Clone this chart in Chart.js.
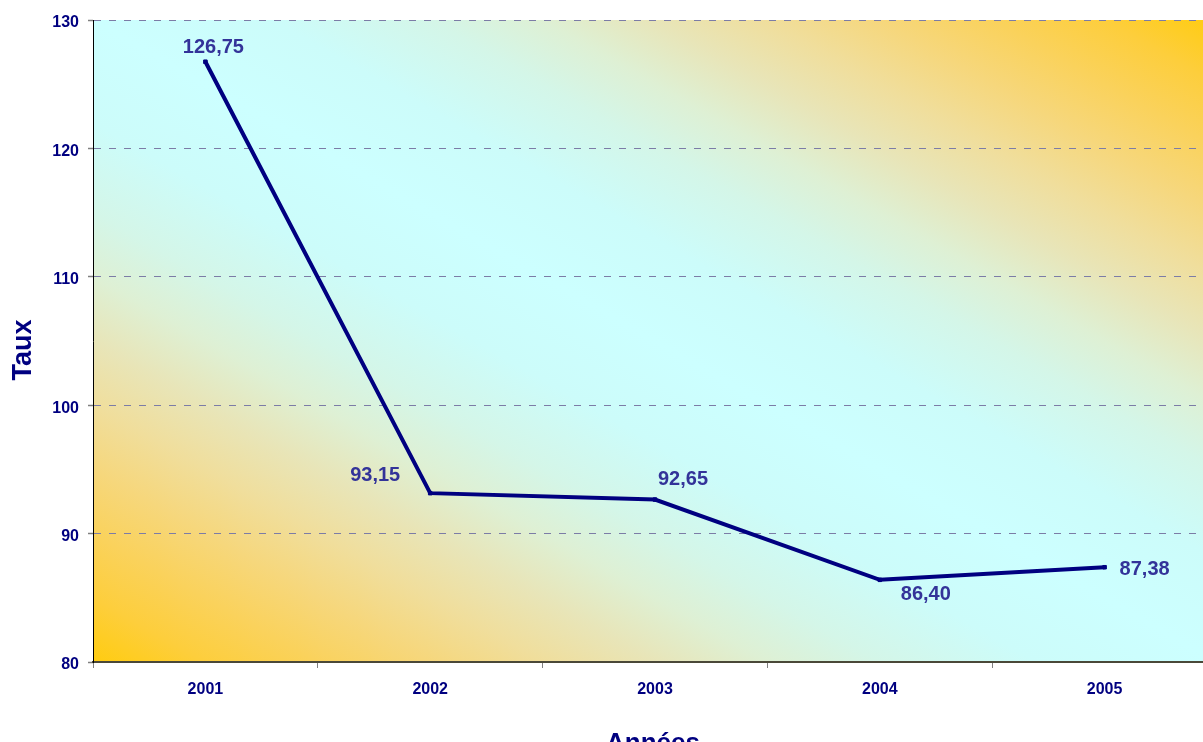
<!DOCTYPE html>
<html>
<head>
<meta charset="utf-8">
<title>Taux 2001-2005</title>
<script src="https://cdn.jsdelivr.net/npm/chart.js@4/dist/chart.umd.min.js"></script>
<style>
  html, body { margin: 0; padding: 0; background: #ffffff; overflow: hidden; }
  /* the plot runs a little past the right edge, so the canvas is wider than the frame */
  #wrap { width: 1203px; height: 742px; overflow: hidden; }
  #lineChart { display: block; }
</style>
</head>
<body>
<div id="wrap"><canvas id="lineChart" width="1217" height="742"></canvas></div>
<script>
// Data
const years = ['2001', '2002', '2003', '2004', '2005'];
const taux = [126.75, 93.15, 92.65, 86.40, 87.38];
const yTicks = [80, 90, 100, 110, 120, 130];

const FONT = '"Liberation Sans", Arial, sans-serif';
const NAVY = '#000080';

// where each value label sits relative to its point (dx, dy)
const labelOffsets = [[8, -14], [-55, -18], [28, -20], [46, 15], [40, 2]];

// gold -> cyan half of the background ramp, mirrored for the other half
const rampStops = [
    [0.00, '#ffcc10'], [0.05, '#fdce3c'], [0.10, '#fad25c'], [0.15, '#f6d77c'],
    [0.20, '#f0de9c'], [0.25, '#e8e5b8'], [0.30, '#def0d4'], [0.35, '#d4f6e8'],
    [0.42, '#ccfcfa'], [0.50, '#ccffff']
];

// Diagonal gold -> cyan -> gold fill behind the plot
const areaGradient = {
    id: 'areaGradient',
    beforeDraw(chart) {
        const { ctx, chartArea: a } = chart;
        const w = a.right - a.left;
        const h = a.bottom - a.top;
        // isolines run corner to corner (top-left / bottom-right)
        const k = 2 / (1 / (w * w) + 1 / (h * h));
        const x0 = a.left, y0 = a.bottom;
        const g = ctx.createLinearGradient(x0, y0, x0 + k / w, y0 - k / h);
        rampStops.forEach(([t, c]) => {
            g.addColorStop(t, c);
            g.addColorStop(1 - t, c);
        });
        ctx.save();
        ctx.fillStyle = g;
        ctx.fillRect(a.left, a.top, w, h);
        ctx.restore();
    }
};

// Value labels with a decimal comma
const valueLabels = {
    id: 'valueLabels',
    afterDatasetsDraw(chart) {
        const { ctx } = chart;
        const meta = chart.getDatasetMeta(0);
        ctx.save();
        ctx.font = 'bold 20px ' + FONT;
        ctx.fillStyle = '#333399';
        ctx.textAlign = 'center';
        ctx.textBaseline = 'middle';
        meta.data.forEach((pt, i) => {
            const txt = taux[i].toFixed(2).replace('.', ',');
            const off = labelOffsets[i];
            ctx.fillText(txt, pt.x + off[0], pt.y + off[1]);
        });
        ctx.restore();
    }
};

// Axis titles
const axisTitles = {
    id: 'axisTitles',
    afterDraw(chart) {
        const { ctx } = chart;
        ctx.save();
        ctx.fillStyle = NAVY;
        ctx.textAlign = 'center';
        ctx.textBaseline = 'alphabetic';
        ctx.font = 'bold 26px ' + FONT;
        ctx.fillText('Années', 653, 751);
        ctx.translate(31, 350);
        ctx.rotate(-Math.PI / 2);
        ctx.font = 'bold 27px ' + FONT;
        ctx.fillText('Taux', 0, 0);
        ctx.restore();
    }
};

window.onload = function() {
    const ctx = document.getElementById('lineChart').getContext('2d');
    new Chart(ctx, {
        type: 'line',
        data: {
            labels: years,
            datasets: [{
                data: taux,
                borderColor: NAVY,
                borderWidth: 4,
                tension: 0,
                pointStyle: 'rect',
                pointRadius: 2.5,
                pointBackgroundColor: NAVY,
                pointBorderColor: NAVY,
                pointBorderWidth: 1
            }]
        },
        options: {
            responsive: false,
            animation: false,
            layout: {
                autoPadding: false,
                padding: { top: 20, right: 0, left: 0, bottom: 0 }
            },
            plugins: {
                legend: { display: false },
                tooltip: { enabled: false }
            },
            scales: {
                x: {
                    offset: true,
                    afterFit(scale) {
                        scale.height = 80;
                        scale.paddingLeft = 0;
                        scale.paddingRight = 0;
                    },
                    grid: {
                        offset: true,
                        drawOnChartArea: false,
                        drawTicks: true,
                        tickLength: 6,
                        tickColor: '#808080',
                        tickWidth: 1
                    },
                    border: { color: '#4a4838', width: 2 },
                    ticks: {
                        color: NAVY,
                        padding: 12,
                        font: { family: FONT, size: 16, weight: 'bold' }
                    }
                },
                y: {
                    min: 80,
                    max: 130,
                    afterFit(scale) { scale.width = 93; },
                    afterBuildTicks(scale) {
                        scale.ticks = yTicks.map(v => ({ value: v }));
                    },
                    grid: {
                        color: '#7c7ca6',
                        lineWidth: 1,
                        tickLength: 5,
                        tickColor: '#808080',
                        tickWidth: 1.5
                    },
                    border: { color: '#000000', width: 1, dash: [7, 8] },
                    ticks: {
                        color: NAVY,
                        padding: 9,
                        labelOffset: 3,
                        font: { family: FONT, size: 16, weight: 'bold' }
                    }
                }
            }
        },
        plugins: [areaGradient, valueLabels, axisTitles]
    });
};
</script>
</body>
</html>
